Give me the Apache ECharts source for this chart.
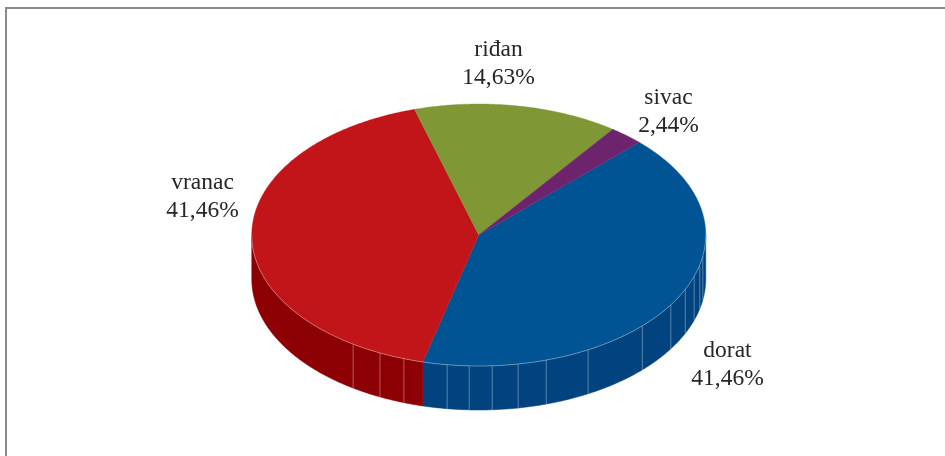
<!DOCTYPE html>
<html><head><meta charset="utf-8">
<style>html,body{margin:0;padding:0;background:#fff}#c{width:945px;height:456px}</style>
<script src="https://cdn.jsdelivr.net/npm/echarts@6/dist/echarts.min.js"></script>
</head><body><div id="c"></div>
<script>
const categories = ['dorat', 'vranac', 'riđan', 'sivac'];
const values = [41.46, 41.46, 14.63, 2.44];
const tickLabels = ['41,46%', '41,46%', '14,63%', '2,44%'];
const topColors = ['#005494', '#c1151a', '#7f9734', '#6d246c'];
const wallColors = ['#00437e', '#8c0003', '#5f7127', '#501a50'];
const labelCenters = [[727.5, 364.5], [202.5, 196.5], [498.5, 63.5], [668.5, 111.5]];
const facetAngles = [99.2, 103.2, 108.4, 114.5, 122.2, 133.9, 151.2, 162.7, 170, 176.6, 182.4, 188, 199.25, 205.8, 213.6];

const CX = 478.75, CY = 235, RX = 227, RY = 131, DEPTH = 44, START = 45;
const total = values.reduce((a, b) => a + b, 0);
const rad = d => d * Math.PI / 180;
const pt = (deg, dy) => [CX + RX * Math.sin(rad(deg)), CY - RY * Math.cos(rad(deg)) + (dy || 0)];
function arc(a, b, dy) {
  const n = Math.max(2, Math.ceil(Math.abs(b - a) / 0.5)), out = [];
  for (let i = 0; i <= n; i++) out.push(pt(a + (b - a) * i / n, dy));
  return out;
}
function range(i) {
  let s = START;
  for (let k = 0; k < i; k++) s += values[k] / total * 360;
  return [s, s + values[i] / total * 360];
}
// Walls are only visible on the front half of the ellipse (90..270 degrees).
function wall(i) {
  const [s, e] = range(i);
  const a = Math.max(s, 90), b = Math.min(e, 270);
  if (a >= b) return [];
  const out = [{
    type: 'polygon', z2: 1,
    shape: { points: arc(a, b, 0).concat(arc(b, a, DEPTH)) },
    style: { fill: wallColors[i], stroke: wallColors[i], lineWidth: 0.5 }
  }];
  facetAngles.filter(d => d > a && d < b).forEach(d => {
    out.push({
      type: 'line', z2: 2,
      shape: { x1: pt(d)[0], y1: pt(d)[1], x2: pt(d, DEPTH)[0], y2: pt(d, DEPTH)[1] },
      style: { stroke: 'rgba(255,255,255,0.35)', lineWidth: 1 }
    });
  });
  out.push({
    type: 'polyline', z2: 4,
    shape: { points: arc(a, b, 0) },
    style: { fill: 'none', stroke: 'rgba(255,255,255,0.45)', lineWidth: 0.8 }
  });
  return out;
}
const option = {
  animation: false,
  backgroundColor: '#fff',
  graphic: [{
    type: 'polyline', silent: true,
    shape: { points: [[6, 456], [6, 8], [945, 8]] },
    style: { fill: 'none', stroke: '#8a8a8a', lineWidth: 2 }
  }],
  series: [{
    type: 'custom',
    coordinateSystem: 'none',
    silent: true,
    data: categories.map((c, i) => ({ name: c, value: [values[i], i] })),
    renderItem(params, api) {
      const i = api.value(1);
      const [s, e] = range(i);
      const [lx, ly] = labelCenters[i];
      return {
        type: 'group',
        children: wall(i).concat([
          {
            type: 'polygon', z2: 3,
            shape: { points: [[CX, CY]].concat(arc(s, e, 0)) },
            style: { fill: topColors[i], stroke: topColors[i], lineWidth: 0.4 }
          },
          {
            type: 'text', z2: 5,
            x: lx, y: ly,
            style: {
              text: categories[i] + '\n' + tickLabels[i],
              fill: '#262626',
              font: '23.5px "Liberation Serif"',
              lineHeight: 28,
              align: 'center',
              verticalAlign: 'middle'
            }
          }
        ])
      };
    }
  }]
};
const chart = echarts.init(document.getElementById('c'), null, { renderer: 'canvas' });
chart.setOption(option);
</script></body></html>
